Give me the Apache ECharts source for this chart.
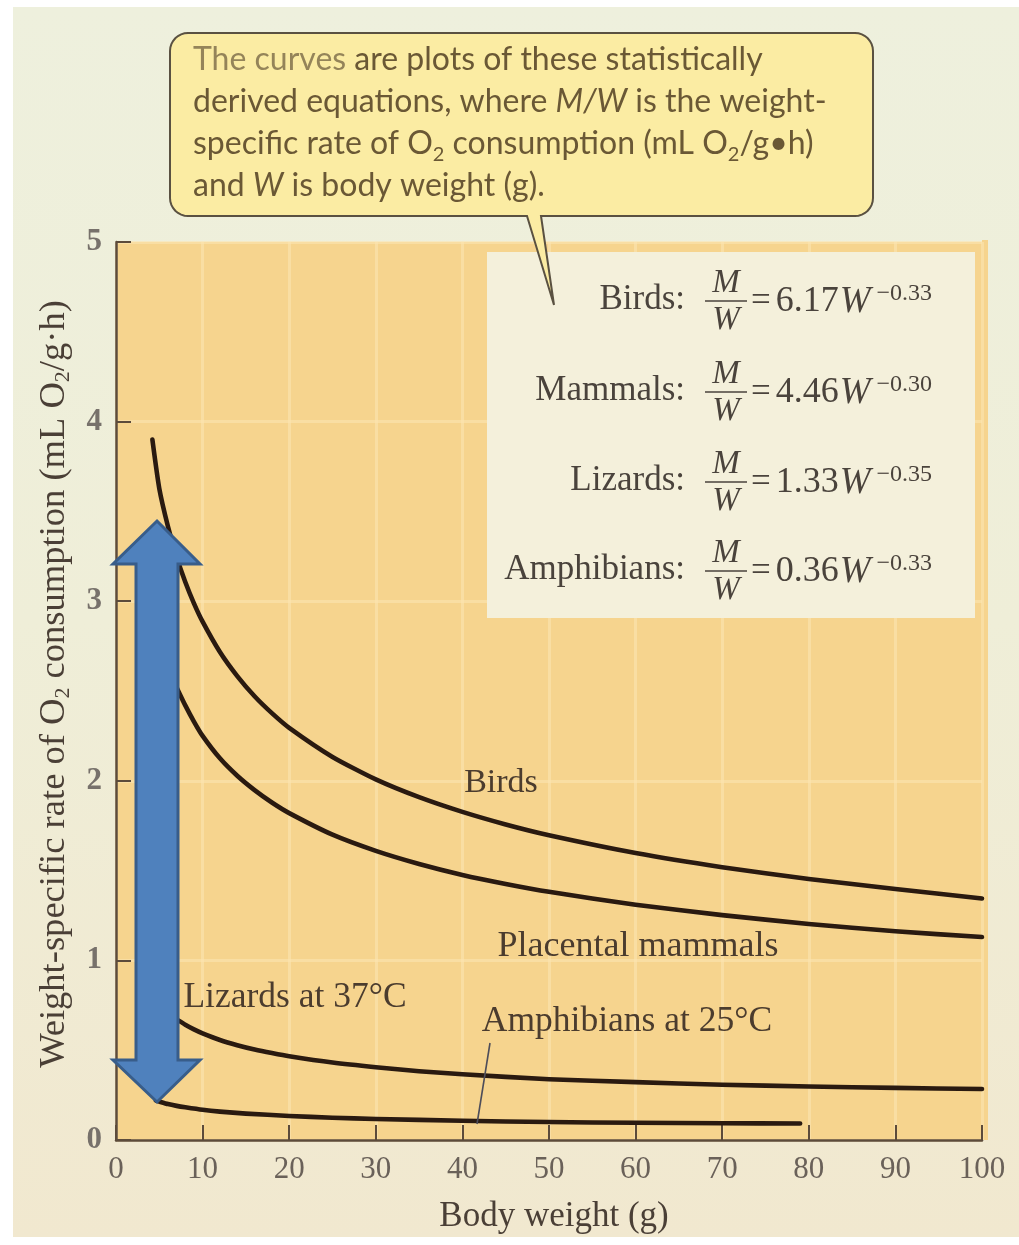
<!DOCTYPE html>
<html><head><meta charset="utf-8">
<script src="https://cdn.jsdelivr.net/npm/echarts@6/dist/echarts.min.js"></script>
<style>
html,body{margin:0;padding:0;background:#ffffff;}
#bg{position:absolute;left:13px;top:7px;width:1006px;height:1230px;background:linear-gradient(180deg,#eef0dd 0%,#efeed8 50%,#f1e8cf 100%);}
#c{position:absolute;left:0;top:0;width:1019px;height:1245px;}
</style>
</head><body>
<div id="bg"></div>
<div id="c"></div>
<script>
// ---------- data ----------
const xTickValues = [0,10,20,30,40,50,60,70,80,90,100];
const yTickValues = [0,1,2,3,4,5];

const birdsW = [4.2, 5, 6, 7, 8, 9, 10, 12, 14, 16, 18, 20, 25, 30, 35, 40, 45, 50, 60, 70, 80, 90, 100];
const birdsV = [3.90, 3.627, 3.416, 3.247, 3.107, 2.988, 2.886, 2.717, 2.583, 2.471, 2.377, 2.295, 2.133, 2.008, 1.909, 1.827, 1.757, 1.697, 1.598, 1.519, 1.453, 1.398, 1.345];

const mammalsW = [7, 8, 9, 10, 12, 14, 16, 18, 20, 25, 30, 35, 40, 45, 50, 60, 70, 80, 90, 100];
const mammalsV = [2.52, 2.42, 2.33, 2.25, 2.125, 2.028, 1.948, 1.879, 1.82, 1.70, 1.61, 1.537, 1.476, 1.426, 1.382, 1.31, 1.252, 1.203, 1.162, 1.13];

const lizardsW = [7.2, 8, 9, 10, 12, 14, 16, 18, 20, 25, 30, 35, 40, 50, 60, 70, 80, 90, 100];
const lizardsV = [0.666, 0.642, 0.616, 0.594, 0.557, 0.528, 0.504, 0.484, 0.466, 0.431, 0.405, 0.383, 0.366, 0.338, 0.322, 0.308, 0.298, 0.290, 0.284];

const amphW = [4.6, 5, 6, 7, 8, 10, 12, 15, 20, 25, 30, 40, 50, 60, 70, 79];
const amphV = [0.22, 0.214, 0.200, 0.190, 0.182, 0.168, 0.158, 0.147, 0.134, 0.124, 0.117, 0.107, 0.100, 0.096, 0.093, 0.092];

const equations = [
  {label: 'Birds:', coef: '6.17', exp: '\u22120.33'},
  {label: 'Mammals:', coef: '4.46', exp: '\u22120.30'},
  {label: 'Lizards:', coef: '1.33', exp: '\u22120.35'},
  {label: 'Amphibians:', coef: '0.36', exp: '\u22120.33'}
];

// ---------- styles ----------
const SERIF = "'Liberation Serif','Times New Roman',serif";
const SANS = "Lato,'Open Sans','Noto Sans',sans-serif";
const AXIS_C = '#5c4b3b';
const CURVE_C = '#2a1a10';
const LABEL_C = '#4b3c2e';
const EQ_C = '#4a433c';

const cv = document.createElement('canvas');
const ctx = cv.getContext('2d');
function tw(text, size, fam, style, weight) {
  ctx.font = (style||'normal') + ' ' + (weight||'normal') + ' ' + size + 'px ' + fam;
  return ctx.measureText(text).width;
}

const pairs = (xs, ys) => xs.map((x, i) => [x, ys[i]]);

const chart = echarts.init(document.getElementById('c'), null, {renderer: 'canvas', width: 1019, height: 1245});

// callout text size fitted to the reference line width
const S = Math.min(32, 587 / tw('The curves are plots of these statistically', 100, SANS) * 100);
const CALL_C = '#6a5835';
const callRich = {
  n: {fontFamily: SANS, fontSize: S, lineHeight: 42, fill: CALL_C},
  l: {fontFamily: SANS, fontSize: S, lineHeight: 42, fill: '#948459'},
  i: {fontFamily: SANS, fontSize: S, lineHeight: 42, fill: CALL_C, fontStyle: 'italic'},
  s: {fontFamily: SANS, fontSize: Math.round(S*0.62), lineHeight: 18, verticalAlign: 'bottom', fill: CALL_C}
};
const callLines = [
  '{l|The curves}{n| are plots of these statistically}',
  '{n|derived equations, where }{i|M/W}{n| is the weight-}',
  '{n|specific rate of O}{s|2}{n| consumption (mL O}{s|2}{n|/g\u2022h)}',
  '{n|and }{i|W}{n| is body weight (g).}'
];

// y axis title fitted
const YT = 768 / ((tw('Weight-specific rate of O', 100, SERIF) + tw(' consumption (mL O', 100, SERIF) + tw('/g\u00b7h)', 100, SERIF)) + 2*tw('2', 60, SERIF)) * 100;

const graphics = [];

// orange strip to the right of the grid
graphics.push({type: 'rect', shape: {x: 982, y: 240, width: 6, height: 900}, style: {fill: '#f6d48e'}, z: -1, silent: true});

// equation box
graphics.push({type: 'rect', shape: {x: 487, y: 252, width: 488, height: 366}, style: {fill: '#f4f0db'}, z: 10});
const rowY = [300, 391, 481, 570];
equations.forEach((e, k) => {
  const cy = rowY[k];
  graphics.push({type: 'text', x: 685, y: cy, z: 11, style: {text: e.label, fontFamily: SERIF, fontSize: 35, fill: EQ_C, align: 'right', verticalAlign: 'middle'}});
  graphics.push({type: 'text', x: 726, y: cy - 17, z: 11, style: {text: 'M', fontFamily: SERIF, fontStyle: 'italic', fontSize: 33, fill: EQ_C, align: 'center', verticalAlign: 'middle'}});
  graphics.push({type: 'line', z: 11, shape: {x1: 705, y1: cy + 1, x2: 747, y2: cy + 1}, style: {stroke: EQ_C, lineWidth: 1.6}});
  graphics.push({type: 'text', x: 726, y: cy + 20, z: 11, style: {text: 'W', fontFamily: SERIF, fontStyle: 'italic', fontSize: 33, fill: EQ_C, align: 'center', verticalAlign: 'middle'}});
  graphics.push({type: 'text', x: 751, y: cy + 2, z: 11, style: {
    text: '{e|=}{n|' + e.coef + '}{i|W}{p|' + e.exp + '}',
    align: 'left', verticalAlign: 'middle',
    rich: {
      e: {fontFamily: SERIF, fontSize: 35, lineHeight: 40, fill: EQ_C, padding: [0, 5, 0, 0]},
      n: {fontFamily: SERIF, fontSize: 36, lineHeight: 40, fill: EQ_C},
      i: {fontFamily: SERIF, fontStyle: 'italic', fontSize: 37, lineHeight: 40, fill: EQ_C, padding: [0, 6, 0, 1]},
      p: {fontFamily: SERIF, fontSize: 24, lineHeight: 24, verticalAlign: 'top', fill: EQ_C}
    }
  }});
});

// callout bubble with tail (polygon outline with rounded corners)
const bx0 = 170, by0 = 33, bx1 = 873, by1 = 216, r = 18;
const tailL = 527, tailR = 541, tipX = 554, tipY = 305;
function arcPts(cx, cy, a0, a1) {
  const pts = [];
  for (let k = 0; k <= 8; k++) {
    const a = a0 + (a1 - a0) * k / 8;
    pts.push([cx + r * Math.cos(a), cy + r * Math.sin(a)]);
  }
  return pts;
}
const bubble = [].concat(
  arcPts(bx0 + r, by0 + r, Math.PI, Math.PI * 1.5),
  arcPts(bx1 - r, by0 + r, Math.PI * 1.5, Math.PI * 2),
  arcPts(bx1 - r, by1 - r, 0, Math.PI * 0.5),
  [[tailR, by1], [tipX, tipY], [tailL, by1]],
  arcPts(bx0 + r, by1 - r, Math.PI * 0.5, Math.PI)
);
graphics.push({type: 'polygon', z: 30, shape: {points: bubble}, style: {fill: '#fbeca3', stroke: '#5a5141', lineWidth: 2}});
const callY = [60, 102, 144, 186];
callLines.forEach((t, k) => {
  graphics.push({type: 'text', x: 193, y: callY[k], z: 31, style: {text: t, rich: callRich, align: 'left', verticalAlign: 'middle'}});
});

// plot labels
const plotLabels = [
  {t: 'Birds', x: 501, y: 783, s: 34},
  {t: 'Placental mammals', x: 638, y: 947, s: 36},
  {t: 'Lizards at 37\u00b0C', x: 295, y: 998, s: 35.5},
  {t: 'Amphibians at 25\u00b0C', x: 627, y: 1022, s: 35.5}
];
plotLabels.forEach(p => {
  graphics.push({type: 'text', x: p.x, y: p.y, z: 12, style: {text: p.t, fontFamily: SERIF, fontSize: p.s, fill: LABEL_C, align: 'center', verticalAlign: 'middle'}});
});
graphics.push({type: 'line', z: 12, shape: {x1: 490, y1: 1043, x2: 477, y2: 1124}, style: {stroke: '#4d4d5a', lineWidth: 1.6}});

// y axis title
graphics.push({type: 'text', x: 54, y: 684, rotation: Math.PI / 2, z: 12, style: {
  text: '{n|Weight-specific rate of O}{s|2}{n| consumption (mL O}{s|2}{n|/g\u00b7h)}',
  align: 'center', verticalAlign: 'middle',
  rich: {
    n: {fontFamily: SERIF, fontSize: YT, lineHeight: 40, fill: '#4a3f36'},
    s: {fontFamily: SERIF, fontSize: Math.round(YT*0.6), lineHeight: 17, verticalAlign: 'bottom', fill: '#4a3f36'}
  }
}});

// x axis title
graphics.push({type: 'text', x: 554, y: 1217, z: 12, style: {text: 'Body weight (g)', fontFamily: SERIF, fontSize: 35, fill: '#4a3f36', align: 'center', verticalAlign: 'middle'}});

// blue double arrow overlay
graphics.push({type: 'polygon', z: 40, shape: {points: [
  [157, 521], [200, 564], [178, 564], [178, 1060], [200, 1060], [157, 1102],
  [113, 1060], [136, 1060], [136, 564], [113, 564]
]}, style: {fill: '#4f81bd', stroke: '#385d8a', lineWidth: 3, lineJoin: 'miter'}});

const lineSeries = (name, xs, ys) => ({
  name, type: 'line', data: pairs(xs, ys),
  smooth: 0.2, showSymbol: false, symbol: 'none',
  lineStyle: {color: CURVE_C, width: 4.6, cap: 'round', join: 'round'},
  z: 5, silent: true
});

chart.setOption({
  animation: false,
  backgroundColor: 'transparent',
  grid: {left: 116, top: 242, width: 866, height: 898, show: true, backgroundColor: '#f6d48e', borderWidth: 0},
  xAxis: {
    type: 'value', min: 0, max: 100, interval: 10,
    axisLine: {show: true, lineStyle: {color: AXIS_C, width: 2.5}},
    axisTick: {show: true, inside: true, length: 15, lineStyle: {color: AXIS_C, width: 2}},
    axisLabel: {color: '#6a6159', fontFamily: SERIF, fontSize: 31, margin: 14,
      formatter: v => xTickValues.includes(v) ? String(v) : ''},
    splitLine: {show: true, lineStyle: {color: '#fbe4b1', width: 3, opacity: 0.6}}
  },
  yAxis: {
    type: 'value', min: 0, max: 5, interval: 1,
    axisLine: {show: true, lineStyle: {color: AXIS_C, width: 2.5}},
    axisTick: {show: true, inside: true, length: 15, lineStyle: {color: AXIS_C, width: 2}},
    axisLabel: {color: '#77716b', fontFamily: SERIF, fontWeight: 'bold', fontSize: 31, margin: 14,
      formatter: v => yTickValues.includes(v) ? String(v) : ''},
    splitLine: {show: true, lineStyle: {color: '#fbe4b1', width: 3, opacity: 0.6}}
  },
  series: [
    lineSeries('Birds', birdsW, birdsV),
    lineSeries('Placental mammals', mammalsW, mammalsV),
    lineSeries('Lizards at 37°C', lizardsW, lizardsV),
    lineSeries('Amphibians at 25°C', amphW, amphV)
  ],
  graphic: {elements: graphics}
});
</script>
</body></html>
